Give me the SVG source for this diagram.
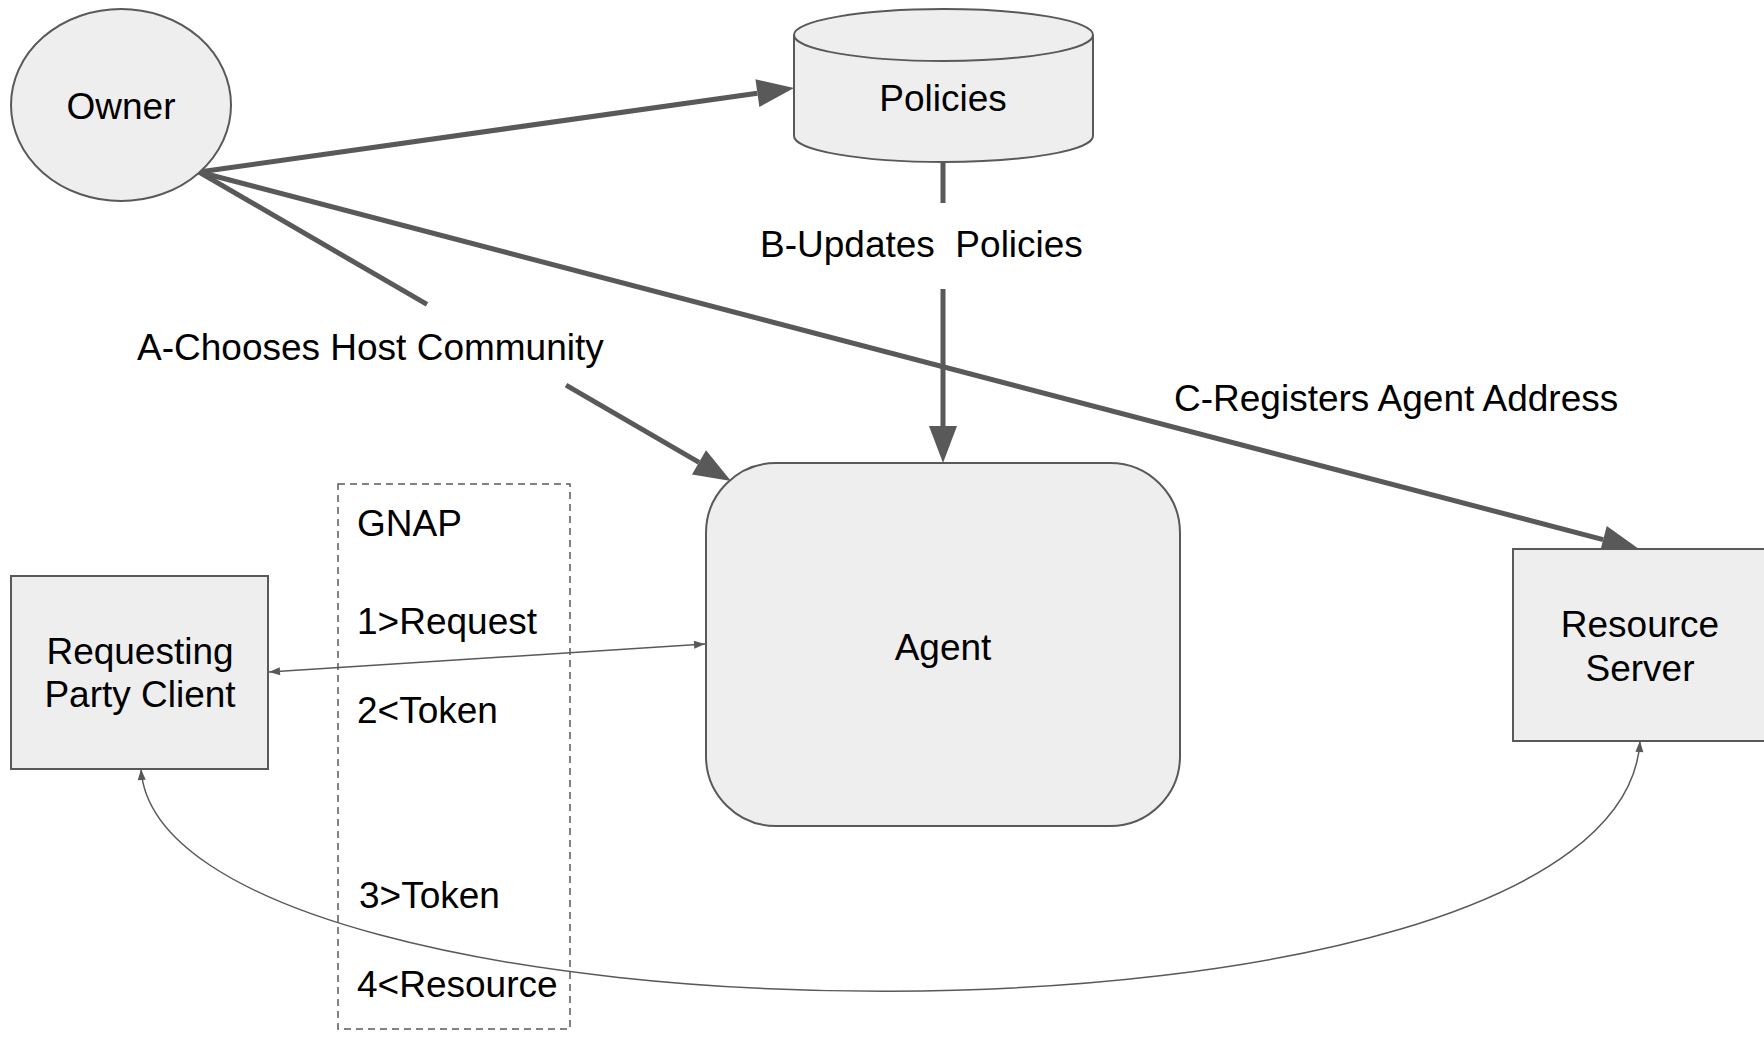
<svg xmlns="http://www.w3.org/2000/svg" width="1764" height="1037" viewBox="0 0 1764 1037">
<style>
.shape{fill:#eeeeee;stroke:#595959;stroke-width:2}
.t{font-family:"Liberation Sans",Arial,sans-serif;font-size:37px;fill:#000}
.c{text-anchor:middle}
.thick{fill:none;stroke:#595959;stroke-width:5}
.thin{fill:none;stroke:#595959;stroke-width:1.5}
</style>
<defs>
<marker id="big" markerUnits="userSpaceOnUse" markerWidth="40" markerHeight="30" refX="0" refY="14" orient="auto" overflow="visible">
<path d="M0,0 L37,14 L0,28 z" fill="#595959"/>
</marker>
<marker id="small" markerUnits="userSpaceOnUse" markerWidth="12" markerHeight="10" refX="11" refY="4" orient="auto-start-reverse" overflow="visible">
<path d="M0,0 L11,4 L0,8 z" fill="#595959"/>
</marker>
</defs>
<rect width="1764" height="1037" fill="#ffffff"/>
<g id="connectors">
<path class="thick" d="M199,172 L757.4,93.2" marker-end="url(#big)"/>
<path class="thick" d="M199,172 L427,304.4"/>
<path class="thick" d="M566,385.2 L699,462.4" marker-end="url(#big)"/>
<path class="thick" d="M199,172 L1603.2,539.6" marker-end="url(#big)"/>
<path class="thick" d="M943,162 L943,203"/>
<path class="thick" d="M943,289 L943,426" marker-end="url(#big)"/>
<path class="thin" d="M269,672 L705,644" marker-start="url(#small)" marker-end="url(#small)"/>
<path class="thin" d="M141,769 C160,1060 1620,1080 1640,741" marker-start="url(#small)" marker-end="url(#small)"/>
</g>
<g id="gnap">
<rect x="338" y="484" width="232" height="545" fill="none" stroke="#595959" stroke-width="1.5" stroke-dasharray="7,5"/>
<text class="t" x="357" y="536">GNAP</text>
<text class="t" x="357" y="634">1&gt;Request</text>
<text class="t" x="357" y="723">2&lt;Token</text>
<text class="t" x="359" y="908">3&gt;Token</text>
<text class="t" x="357" y="997">4&lt;Resource</text>
</g>
<g id="owner">
<ellipse class="shape" cx="121" cy="105" rx="110" ry="96"/>
<text class="t c" x="121" y="119">Owner</text>
</g>
<g id="policies">
<path class="shape" d="M794,35 L794,136 A149.5,26 0 0 0 1093,136 L1093,35"/>
<ellipse class="shape" cx="943.5" cy="35" rx="149.5" ry="26"/>
<text class="t c" x="943" y="111">Policies</text>
</g>
<g id="agent">
<rect class="shape" x="706" y="463" width="474" height="363" rx="70" ry="70"/>
<text class="t c" x="943" y="660">Agent</text>
</g>
<g id="requesting-party-client">
<rect class="shape" x="11" y="576" width="257" height="193"/>
<text class="t c" x="140" y="664">Requesting</text>
<text class="t c" x="140" y="707">Party Client</text>
</g>
<g id="resource-server">
<rect class="shape" x="1513" y="549" width="254" height="192"/>
<text class="t c" x="1640" y="637">Resource</text>
<text class="t c" x="1640" y="681">Server</text>
</g>
<g id="labels">
<text class="t" x="137" y="360">A-Chooses Host Community</text>
<text class="t" x="760" y="257" xml:space="preserve">B-Updates  Policies</text>
<text class="t" x="1174" y="411">C-Registers Agent Address</text>
</g>
</svg>
